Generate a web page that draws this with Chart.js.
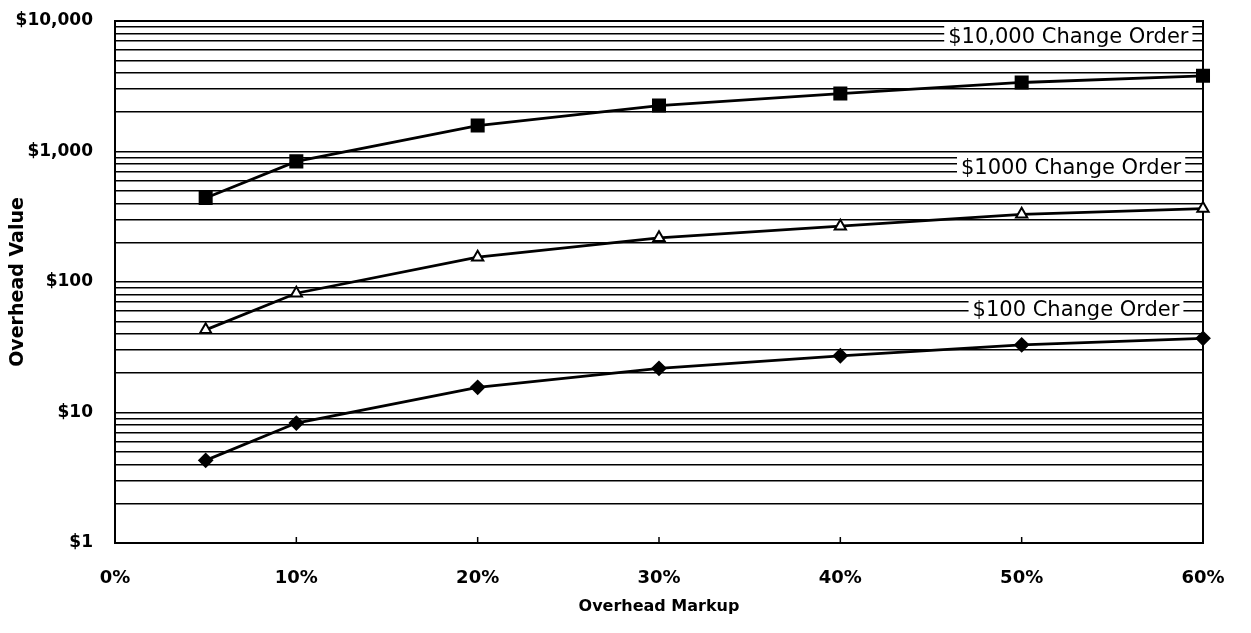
<!DOCTYPE html>
<html><head><meta charset="utf-8">
<script src="https://cdn.jsdelivr.net/npm/chart.js@4"></script>
<style>html,body{margin:0;padding:0;background:#fff}#wrap{width:1251px;height:633px;position:relative}</style>
</head><body><div id="wrap"><canvas id="c"></canvas></div>
<script>
const xValues = [5, 10, 20, 30, 40, 50, 60];
const co10000 = [440, 840, 1580, 2250, 2780, 3380, 3800];
const co1000 = [43, 82, 155, 218, 268, 330, 365];
const co100 = [4.3, 8.3, 15.6, 21.8, 27.2, 33, 37];
const seriesNames = ['$10,000 Change Order', '$1000 Change Order', '$100 Change Order'];
const labelYValues = [7640, 750, 61.7];
const labelRightX = [59.2, 58.8, 58.7];
const xTickValues = [0, 10, 20, 30, 40, 50, 60];
const yMajorValues = [1, 10, 100, 1000, 10000];
const yTickLabels = ['$1', '$10', '$100', '$1,000', '$10,000'];
const xTitle = 'Overhead Markup';
const yTitle = 'Overhead Value';

const pts = arr => xValues.map((x, i) => ({x: x, y: arr[i]}));

const framePlugin = {
  id: 'frameAndLabels',
  beforeDatasetsDraw(chart) {
    const {ctx, chartArea: a, scales: {x, y}} = chart;
    ctx.save();
    ctx.font = '21px "DejaVu Sans"';
    ctx.textBaseline = 'middle';
    ctx.textAlign = 'right';
    seriesNames.forEach((t, i) => {
      const py = y.getPixelForValue(labelYValues[i]);
      const px = x.getPixelForValue(labelRightX[i]);
      const w = ctx.measureText(t).width;
      ctx.fillStyle = '#fff';
      ctx.fillRect(px - w - 4, py - 11, w + 8, 22);
      ctx.fillStyle = '#000';
      ctx.fillText(t, px, py + 1);
    });
    ctx.strokeStyle = '#000';
    ctx.lineWidth = 2;
    ctx.strokeRect(a.left, a.top, a.right - a.left, a.bottom - a.top);
    ctx.lineWidth = 1.5;
    xTickValues.forEach(v => {
      const px = x.getPixelForValue(v);
      ctx.beginPath();
      ctx.moveTo(px, a.bottom);
      ctx.lineTo(px, a.bottom - 6);
      ctx.stroke();
    });
    ctx.restore();
  }
};

const common = {borderColor: '#000', borderWidth: 2.8, pointBorderColor: '#000', pointBorderWidth: 2, clip: false, tension: 0};

new Chart(document.getElementById('c'), {
  type: 'line',
  data: {
    datasets: [
      Object.assign({label: seriesNames[0], data: pts(co10000), pointStyle: 'rect', pointRadius: 8.5, pointBackgroundColor: '#000'}, common),
      Object.assign({label: seriesNames[1], data: pts(co1000), pointStyle: 'triangle', pointRadius: 6.5, pointBackgroundColor: '#fff'}, common),
      Object.assign({label: seriesNames[2], data: pts(co100), pointStyle: 'rectRot', pointRadius: 6.5, pointBackgroundColor: '#000'}, common)
    ]
  },
  options: {
    responsive: true,
    maintainAspectRatio: false,
    animation: false,
    layout: {padding: {left: 0, right: 48, top: 21, bottom: 0}},
    plugins: {legend: {display: false}, tooltip: {enabled: false}},
    scales: {
      x: {
        type: 'linear', min: 0, max: 60,
        afterBuildTicks: s => { s.ticks = xTickValues.map(v => ({value: v})); },
        afterFit: s => { s.height = 90; s.paddingLeft = 0; s.paddingRight = 0; s.paddingTop = 0; s.paddingBottom = 0; },
        grid: {display: false},
        border: {display: false},
        ticks: {autoSkip: false, maxRotation: 0, padding: 17, color: '#000',
          font: {family: 'DejaVu Sans', size: 18, weight: 'bold'},
          callback: v => v + '%'},
        title: {display: true, text: xTitle, color: '#000', padding: {top: 17, bottom: 17},
          font: {family: 'DejaVu Sans', size: 16, weight: 'bold'}}
      },
      y: {
        type: 'logarithmic', min: 1, max: 10000,
        afterBuildTicks: s => {
          const t = [];
          for (let m = 1; m < 10000; m *= 10) for (let d = 1; d < 10; d++) t.push({value: d * m});
          t.push({value: 10000});
          s.ticks = t;
        },
        afterFit: s => { s.width = 115; s.paddingTop = 0; s.paddingBottom = 0; s.paddingLeft = 0; s.paddingRight = 0; },
        grid: {color: '#000', lineWidth: 1.5, drawTicks: false},
        border: {display: false},
        ticks: {autoSkip: false, padding: 22, color: '#000',
          font: {family: 'DejaVu Sans', size: 17, weight: 'bold'},
          callback: v => { const i = yMajorValues.indexOf(v); return i >= 0 ? yTickLabels[i] : ''; }},
        title: {display: true, text: yTitle, color: '#000', padding: {top: 7, bottom: 7},
          font: {family: 'DejaVu Sans', size: 19, weight: 'bold'}}
      }
    }
  },
  plugins: [framePlugin]
});
</script>
</body></html>
